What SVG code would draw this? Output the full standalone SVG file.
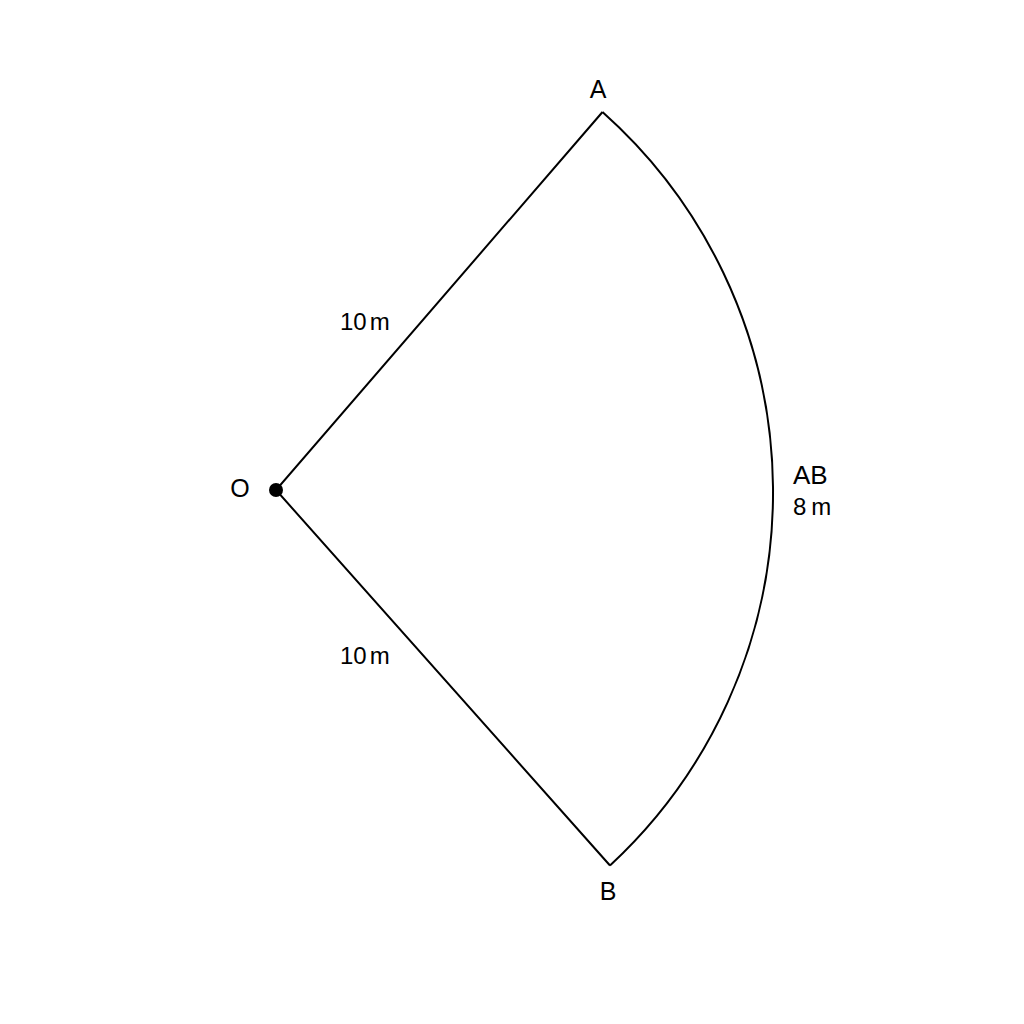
<svg xmlns="http://www.w3.org/2000/svg" width="1024" height="1024" viewBox="0 0 1024 1024">
<style>
.ln{fill:none;stroke:#000;stroke-width:2;stroke-linejoin:miter}
.t{font-family:"Liberation Sans",Arial,sans-serif;font-size:25px;fill:#000}
.s{font-family:"Liberation Sans",Arial,sans-serif;font-size:24px;fill:#000}
</style>
<rect width="1024" height="1024" fill="#fff"/>
<g id="connectors">
<path class="ln" d="M602.5,112 L276,490 L610,865.5"/>
<path class="ln" d="M602.5,112 A509 509 0 0 1 610,865.5"/>
</g>
<g id="node-O">
<circle cx="276" cy="490" r="7" fill="#000"/>
<text class="t" x="240" y="497" text-anchor="middle">O</text>
</g>
<g id="node-A">
<text class="t" x="598" y="98" text-anchor="middle">A</text>
</g>
<g id="node-B">
<text class="t" x="608" y="900" text-anchor="middle">B</text>
</g>
<g id="labels">
<text class="s" x="340" y="330">10<tspan dx="3">m</tspan></text>
<text class="s" x="340" y="664">10<tspan dx="3">m</tspan></text>
<text class="t" x="793" y="484" style="font-size:26px">AB</text>
<text class="s" x="793" y="515">8<tspan dx="5">m</tspan></text>
</g>
</svg>
